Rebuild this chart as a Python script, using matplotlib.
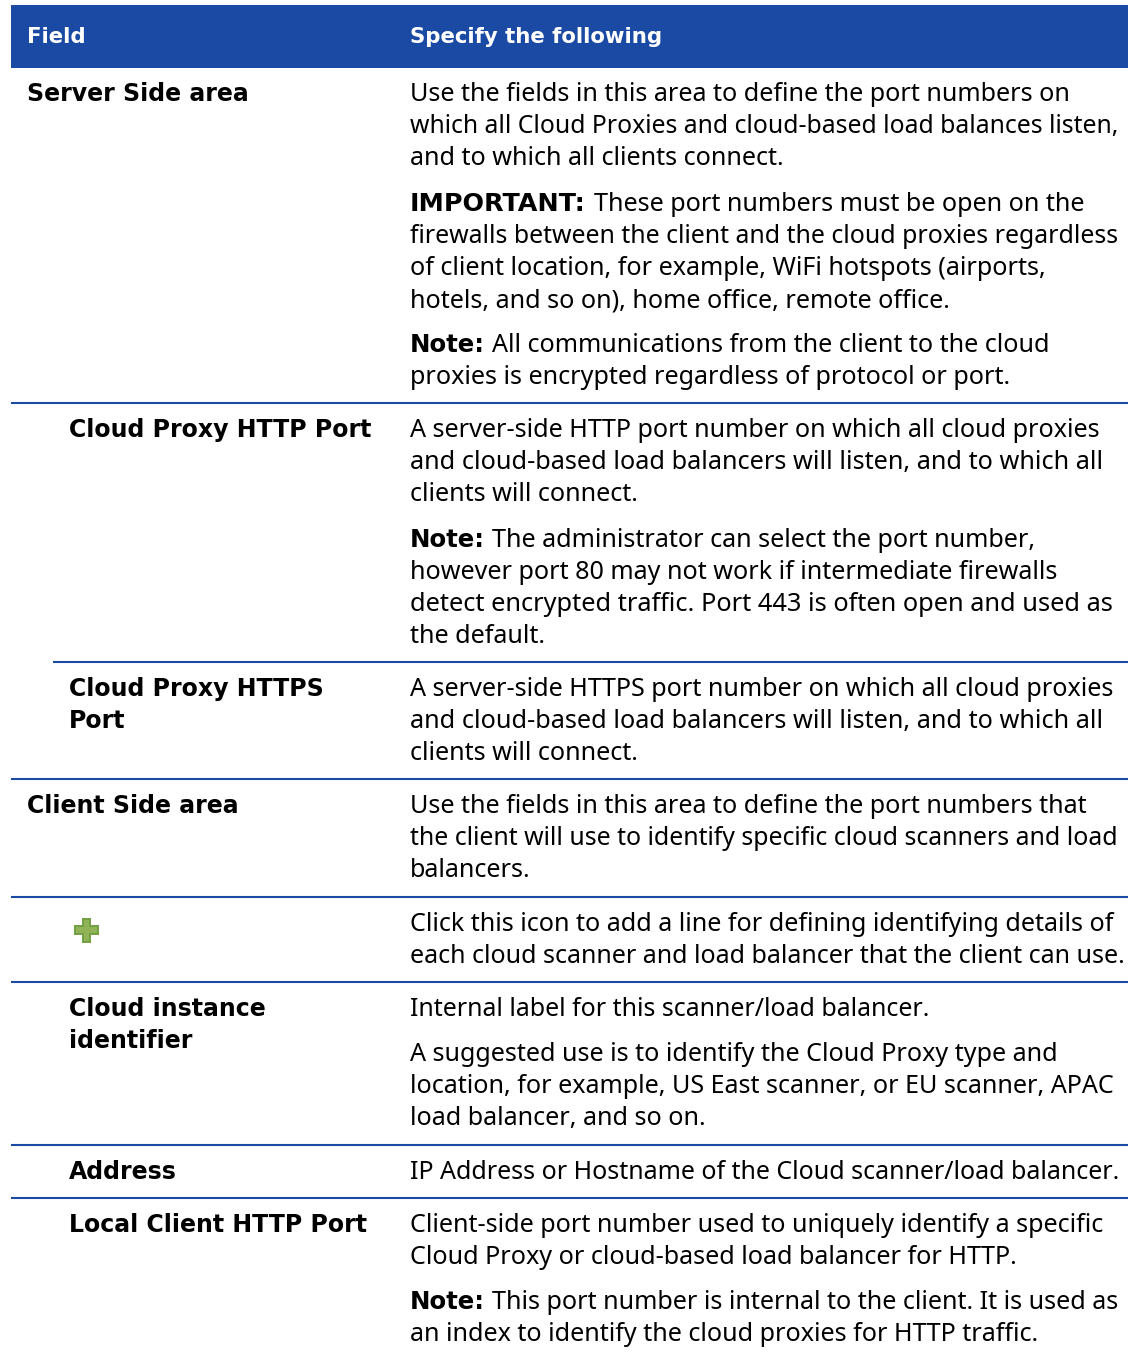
import matplotlib
matplotlib.use("Agg")
import matplotlib.pyplot as plt
from matplotlib.patches import Rectangle

W, H = 1128, 1353
BLUE = "#1a4aa3"
REG = ["Noto Sans", "DejaVu Sans"]
BOLD = ["DejaVu Sans"]
REG_SIZE = 18.1
BOLD_SIZE = 17.05

header = [(27, "Field"), (410, "Specify the following")]

# (x, baseline y, text)
field_labels = [
    (27, 101, "Server Side area"),
    (69, 437, "Cloud Proxy HTTP Port"),
    (69, 696, "Cloud Proxy HTTPS"),
    (69, 728, "Port"),
    (27, 813, "Client Side area"),
    (69, 1016, "Cloud instance"),
    (69, 1048, "identifier"),
    (69, 1179, "Address"),
    (69, 1232, "Local Client HTTP Port"),
]

# bold lead-in: (size, x of the text that follows)
leads = {"IMPORTANT:": (18.3, 594), "Note:": (17.6, 492)}

# (baseline y, bold lead-in, text)
desc_lines = [
    (101, "", "Use the fields in this area to define the port numbers on"),
    (133, "", "which all Cloud Proxies and cloud-based load balances listen,"),
    (165, "", "and to which all clients connect."),
    (211, "IMPORTANT:", "These port numbers must be open on the"),
    (243, "", "firewalls between the client and the cloud proxies regardless"),
    (275, "", "of client location, for example, WiFi hotspots (airports,"),
    (307, "", "hotels, and so on), home office, remote office."),
    (352, "Note:", "All communications from the client to the cloud"),
    (384, "", "proxies is encrypted regardless of protocol or port."),
    (437, "", "A server-side HTTP port number on which all cloud proxies"),
    (469, "", "and cloud-based load balancers will listen, and to which all"),
    (501, "", "clients will connect."),
    (547, "Note:", "The administrator can select the port number,"),
    (579, "", "however port 80 may not work if intermediate firewalls"),
    (611, "", "detect encrypted traffic. Port 443 is often open and used as"),
    (643, "", "the default."),
    (696, "", "A server-side HTTPS port number on which all cloud proxies"),
    (728, "", "and cloud-based load balancers will listen, and to which all"),
    (760, "", "clients will connect."),
    (813, "", "Use the fields in this area to define the port numbers that"),
    (845, "", "the client will use to identify specific cloud scanners and load"),
    (877, "", "balancers."),
    (931, "", "Click this icon to add a line for defining identifying details of"),
    (963, "", "each cloud scanner and load balancer that the client can use."),
    (1016, "", "Internal label for this scanner/load balancer."),
    (1061, "", "A suggested use is to identify the Cloud Proxy type and"),
    (1093, "", "location, for example, US East scanner, or EU scanner, APAC"),
    (1125, "", "load balancer, and so on."),
    (1179, "", "IP Address or Hostname of the Cloud scanner/load balancer."),
    (1232, "", "Client-side port number used to uniquely identify a specific"),
    (1264, "", "Cloud Proxy or cloud-based load balancer for HTTP."),
    (1309, "Note:", "This port number is internal to the client. It is used as"),
    (1341, "", "an index to identify the cloud proxies for HTTP traffic."),
]

# lines that run long or short in this font, keyed by baseline
size_fix = {133: 17.82, 243: 17.9, 845: 17.9, 963: 18.05, 1179: 18.0,
            611: 18.25, 469: 18.18, 728: 18.18, 1016: 17.93}

# (y, x start)
rules = [(403, 11), (662, 53), (779, 11), (897, 11), (982, 11), (1145, 11), (1198, 11)]

fig = plt.figure(figsize=(W / 100, H / 100), dpi=100)
ax = fig.add_axes([0, 0, 1, 1])
ax.set_xlim(0, W)
ax.set_ylim(H, 0)
ax.axis("off")

ax.add_patch(Rectangle((11, 5), W - 11, 63, color=BLUE, lw=0))
for x, s in header:
    ax.text(x, 43, s, color="white", family=BOLD, weight="bold", size=15.3, va="baseline")

for y, x0 in rules:
    ax.plot([x0, W], [y, y], color=BLUE, lw=1.5, solid_capstyle="butt")

for x, y, s in field_labels:
    ax.text(x, y, s, color="black", family=BOLD, weight="bold", size=BOLD_SIZE, va="baseline")

for y, lead, s in desc_lines:
    x = 410
    if lead:
        size, x_after = leads[lead]
        ax.text(x, y, lead, color="black", family=BOLD, weight="bold", size=size, va="baseline")
        x = x_after
    ax.text(x, y, s, color="black", family=REG, size=size_fix.get(y, REG_SIZE), va="baseline")

# plus icon
ax.add_patch(Rectangle((82, 918), 9, 25, color="#74a044", lw=0))
ax.add_patch(Rectangle((74, 924.5), 25, 10, color="#74a044", lw=0))
ax.add_patch(Rectangle((84, 920), 5, 21, color="#8fb356", lw=0))
ax.add_patch(Rectangle((76, 926.5), 21, 6, color="#8fb356", lw=0))

fig.savefig("out.png", dpi=100)
